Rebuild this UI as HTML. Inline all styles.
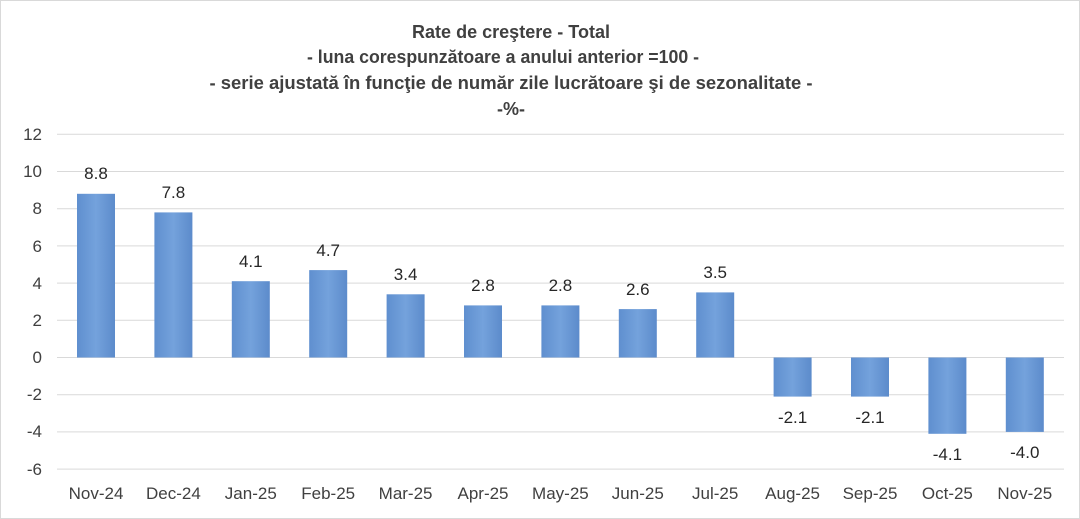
<!DOCTYPE html>
<html><head><meta charset="utf-8"><style>
html,body{margin:0;padding:0;background:#fff;}
svg{display:block;font-family:"Liberation Sans",sans-serif;}
</style></head><body>
<svg width="1080" height="519" viewBox="0 0 1080 519" xmlns="http://www.w3.org/2000/svg">
<defs>
<linearGradient id="g" x1="0" x2="1" y1="0" y2="0">
<stop offset="0" stop-color="#5f8fcf"/><stop offset="0.5" stop-color="#74a2dc"/><stop offset="1" stop-color="#5c8bcb"/>
</linearGradient>
</defs>
<rect x="0.5" y="0.5" width="1079" height="518" fill="#fff" stroke="#d9d9d9"/>
<g font-weight="bold" font-size="18" fill="#404040" text-anchor="middle">
<text x="511" y="38" textLength="198" lengthAdjust="spacingAndGlyphs">Rate de creştere - Total</text>
<text x="503" y="63" textLength="392" lengthAdjust="spacingAndGlyphs">- luna corespunzătoare a anului anterior =100 -</text>
<text x="511" y="89" textLength="603" lengthAdjust="spacingAndGlyphs">- serie ajustată în funcţie de număr zile lucrătoare şi de sezonalitate -</text>
<text x="511" y="115">-%-</text>
</g>
<g stroke="#d9d9d9" stroke-width="1">
<line x1="57" x2="1064" y1="134.3" y2="134.3"/>
<line x1="57" x2="1064" y1="171.5" y2="171.5"/>
<line x1="57" x2="1064" y1="208.7" y2="208.7"/>
<line x1="57" x2="1064" y1="245.9" y2="245.9"/>
<line x1="57" x2="1064" y1="283.1" y2="283.1"/>
<line x1="57" x2="1064" y1="320.3" y2="320.3"/>
<line x1="57" x2="1064" y1="357.5" y2="357.5"/>
<line x1="57" x2="1064" y1="394.7" y2="394.7"/>
<line x1="57" x2="1064" y1="431.9" y2="431.9"/>
<line x1="57" x2="1064" y1="469.1" y2="469.1"/>
</g>
<g font-size="17" fill="#404040" text-anchor="end">
<text x="42" y="140">12</text><text x="42" y="177">10</text><text x="42" y="214">8</text>
<text x="42" y="252">6</text><text x="42" y="289">4</text><text x="42" y="326">2</text>
<text x="42" y="363">0</text><text x="42" y="400">-2</text><text x="42" y="437">-4</text><text x="42" y="475">-6</text>
</g>
<g fill="url(#g)">
<rect x="77" y="193.8" width="38" height="163.7"/>
<rect x="154.4" y="212.4" width="38" height="145.1"/>
<rect x="231.8" y="281.2" width="38" height="76.3"/>
<rect x="309.2" y="270.1" width="38" height="87.4"/>
<rect x="386.6" y="294.3" width="38" height="63.2"/>
<rect x="464" y="305.4" width="38" height="52.1"/>
<rect x="541.4" y="305.4" width="38" height="52.1"/>
<rect x="618.8" y="309.1" width="38" height="48.4"/>
<rect x="696.2" y="292.4" width="38" height="65.1"/>
<rect x="773.6" y="357.5" width="38" height="39.1"/>
<rect x="851" y="357.5" width="38" height="39.1"/>
<rect x="928.4" y="357.5" width="38" height="76.3"/>
<rect x="1005.8" y="357.5" width="38" height="74.4"/>
</g>
<g font-size="17" fill="#262626" text-anchor="middle">
<text x="96" y="179">8.8</text><text x="173.4" y="198">7.8</text><text x="250.8" y="267">4.1</text>
<text x="328.2" y="256">4.7</text><text x="405.6" y="280">3.4</text><text x="483" y="291">2.8</text>
<text x="560.4" y="291">2.8</text><text x="637.8" y="295">2.6</text><text x="715.2" y="278">3.5</text>
<text x="792.6" y="423">-2.1</text><text x="870" y="423">-2.1</text><text x="947.4" y="460">-4.1</text><text x="1024.8" y="458">-4.0</text>
</g>
<g font-size="17" fill="#404040" text-anchor="middle">
<text x="96" y="499">Nov-24</text><text x="173.4" y="499">Dec-24</text><text x="250.8" y="499">Jan-25</text>
<text x="328.2" y="499">Feb-25</text><text x="405.6" y="499">Mar-25</text><text x="483" y="499">Apr-25</text>
<text x="560.4" y="499">May-25</text><text x="637.8" y="499">Jun-25</text><text x="715.2" y="499">Jul-25</text>
<text x="792.6" y="499">Aug-25</text><text x="870" y="499">Sep-25</text><text x="947.4" y="499">Oct-25</text><text x="1024.8" y="499">Nov-25</text>
</g>
</svg>
</body></html>
